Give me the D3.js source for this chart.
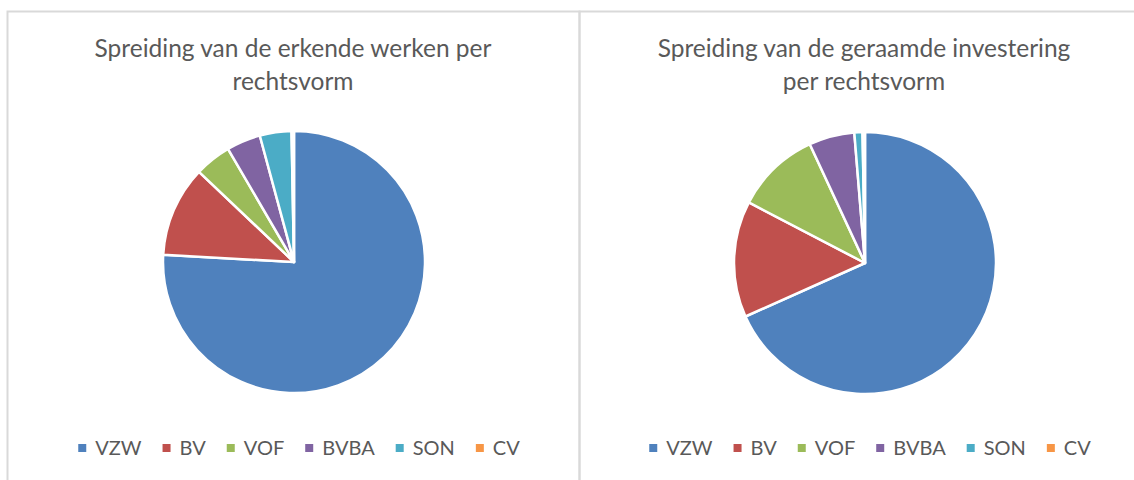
<!DOCTYPE html>
<html>
<head>
<meta charset="utf-8">
<script src="https://cdn.jsdelivr.net/npm/d3@7"></script>
<style>
  body { margin: 0; background: #fff; }
  svg { display: block; }
  text { font-family: Lato, "Open Sans", sans-serif; fill: #595959; }
</style>
</head>
<body>
<script>
'use strict';

// legal forms, shared by both pies
var categories = ['VZW', 'BV', 'VOF', 'BVBA', 'SON', 'CV'];
var colors = ['#4f81bd', '#c0504d', '#9bbb59', '#8064a2', '#4bacc6', '#f79646'];

// share per legal form (percent)
var werkenShare = [75.8, 11.2, 4.5, 4.2, 3.9, 0.3];
var investeringShare = [68.1, 14.3, 10.4, 5.6, 1.0, 0.3];

// titles, already broken into lines like the original
var werkenTitle = ['Spreiding van de erkende werken per', 'rechtsvorm'];
var investeringTitle = ['Spreiding van de geraamde investering', 'per rechtsvorm'];

var width = 1134;
var height = 480;
var radius = 131;

var svg = d3.select('body').append('svg')
    .attr('width', width)
    .attr('height', height);

svg.append('rect')
    .attr('width', width)
    .attr('height', height)
    .attr('fill', '#fff');

// panel frames
svg.append('rect')
    .attr('x', 7.5).attr('y', 11.5)
    .attr('width', 572).attr('height', 520)
    .attr('fill', 'none')
    .attr('stroke', '#d9d9d9')
    .attr('stroke-width', 2);

svg.append('rect')
    .attr('x', 579.5).attr('y', 11.5)
    .attr('width', 620).attr('height', 520)
    .attr('fill', 'none')
    .attr('stroke', '#d9d9d9')
    .attr('stroke-width', 2);

drawPie(werkenShare, werkenTitle, 294, 262);
drawPie(investeringShare, investeringTitle, 865, 263);

function drawPie(values, titleLines, cx, cy) {

    var g = svg.append('g');

    // title
    g.selectAll('.title')
        .data(titleLines)
        .enter().append('text')
        .attr('class', 'title')
        .attr('x', cx - 1)
        .attr('y', function(d, i) { return 57 + i * 33; })
        .attr('text-anchor', 'middle')
        .style('font-size', '24.5px')
        .style('font-weight', 400)
        .text(function(d) { return d; });

    // slices, first one starting at 12 o'clock going clockwise
    var pie = d3.pie().sort(null).value(function(d) { return d; });
    var arc = d3.arc().innerRadius(0).outerRadius(radius);

    var color = d3.scaleOrdinal().domain(categories).range(colors);

    g.append('g')
        .attr('transform', 'translate(' + cx + ',' + cy + ')')
        .selectAll('path')
        .data(pie(values))
        .enter().append('path')
        .attr('d', arc)
        .attr('fill', function(d, i) { return color(categories[i]); })
        .attr('stroke', '#fff')
        .attr('stroke-width', 2.5)
        .attr('stroke-linejoin', 'round');

    // legend, laid out from measured text widths and centred
    var legend = g.append('g');
    var items = legend.selectAll('g')
        .data(categories)
        .enter().append('g');

    items.append('rect')
        .attr('width', 8)
        .attr('height', 8)
        .attr('y', 444)
        .attr('fill', function(d) { return color(d); });

    items.append('text')
        .attr('x', 17)
        .attr('y', 455)
        .style('font-size', '20px')
        .text(function(d) { return d; });

    var offset = 0;
    items.each(function() {
        var w = d3.select(this).select('text').node().getComputedTextLength();
        d3.select(this).attr('transform', 'translate(' + offset + ',0)');
        offset += 17 + w + 21;
    });
    var total = offset - 21;
    legend.attr('transform', 'translate(' + (cx + 5 - total / 2) + ',0)');
}
</script>
</body>
</html>
